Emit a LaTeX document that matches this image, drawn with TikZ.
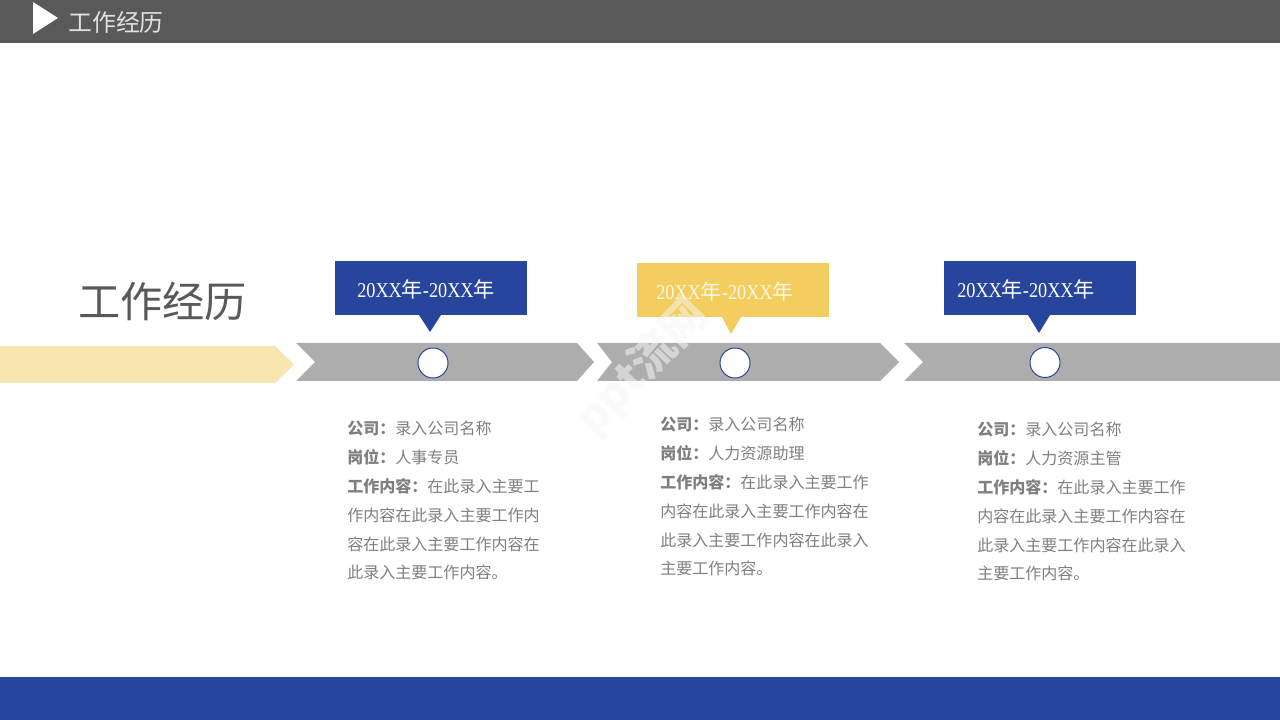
\documentclass[tikz,border=0pt]{standalone}
\usepackage{fontspec}
\newfontfamily\cjk{Noto Sans CJK SC}
\newfontfamily\datelatin{Liberation Serif}[FakeStretch=0.865]
\definecolor{headgray}{HTML}{595959}
\definecolor{barblue}{HTML}{27459C}
\definecolor{baryellow}{HTML}{F3CD5D}
\definecolor{palebar}{HTML}{F9E5B0}
\definecolor{stepgray}{HTML}{ADADAD}
\definecolor{bodygray}{HTML}{7F7F7F}
\newcommand{\datespan}{{\datelatin 20XX}年{\datelatin -20XX}年}
\begin{document}
\begin{tikzpicture}[
  x = 0.025cm,
  y = -0.025cm,
  datebox/.style = {
    shape = rectangle,
    minimum width = 4.8cm,
    minimum height = 1.35cm,
    inner sep = 0pt,
    outer sep = 0pt,
  },
  datetext/.style = {
    anchor = west,
    inner sep = 0pt,
    font = \cjk\fontsize{15}{18}\selectfont,
  },
  dot/.style = {
    shape = circle,
    draw = barblue,
    fill = white,
    line width = 0.7pt,
    minimum size = 0.75cm,
    inner sep = 0pt,
    outer sep = 0pt,
  },
  detail/.style = {
    anchor = north west,
    align = left,
    inner sep = 0pt,
    text = bodygray,
    font = \cjk\fontsize{11.4}{20.5}\selectfont,
  },
  stamp/.style = {
    rotate = 46,
    inner sep = 0pt,
    font = \cjk\bfseries\fontsize{32}{38}\selectfont,
  },
]
  \useasboundingbox (0, 0) rectangle (1280, 720);

  \fill[headgray] (0, 0) rectangle (1280, 43);
  \fill[barblue] (0, 677) rectangle (1280, 720);
  \fill[white] (33, 2) -- (58, 18) -- (33, 34) -- cycle;
  \node[anchor = west, inner sep = 0pt, text = white!88!black,
    font = \cjk\fontsize{17}{20}\selectfont] (headtitle) at (68, 22) {工作经历};
  \node[anchor = west, inner sep = 0pt, text = headgray,
    font = \cjk\fontsize{30}{36}\selectfont] (maintitle) at (78, 301) {工作经历};

  % timeline
  \fill[palebar] (0, 346) -- (275, 346) -- (294, 364.5) -- (275, 383) -- (0, 383) -- cycle;
  \fill[stepgray] (296, 343) -- (577, 343) -- (594, 362) -- (577, 381) -- (296, 381) -- (315, 362) -- cycle;
  \fill[stepgray] (597, 343) -- (880, 343) -- (899, 362) -- (880, 381) -- (597, 381) -- (612, 362) -- cycle;
  \fill[stepgray] (904, 343) -- (1280, 343) -- (1280, 381) -- (904, 381) -- (923, 362) -- cycle;

  \node[dot] (dot1) at (433, 363) {};
  \node[dot] (dot2) at (735, 363) {};
  \node[dot] (dot3) at (1045, 362.5) {};

  % date boxes
  \node[datebox, fill = barblue] (date1) at (431, 288) {};
  \node[datebox, fill = baryellow] (date2) at (733, 290) {};
  \node[datebox, fill = barblue] (date3) at (1040, 288) {};
  \fill[barblue] (419, 315) -- (430, 332) -- (441, 315) -- cycle;
  \fill[baryellow] (722, 317) -- (731, 334) -- (741, 317) -- cycle;
  \fill[barblue] (1028, 315) -- (1039, 333) -- (1050, 315) -- cycle;
  \node[datetext, text = white] (span1) at (357, 289) {\datespan};
  \node[datetext, text = white!85!baryellow] (span2) at (656, 291) {\datespan};
  \node[datetext, text = white] (span3) at (957, 289) {\datespan};

  % details
  \node[detail] (info1) at (347, 421) {%
    \textbf{公司：}录入公司名称\\
    \textbf{岗位：}人事专员\\
    \textbf{工作内容：}在此录入主要工\\
    作内容在此录入主要工作内\\
    容在此录入主要工作内容在\\
    此录入主要工作内容。};
  \node[detail] (info2) at (660, 417) {%
    \textbf{公司：}录入公司名称\\
    \textbf{岗位：}人力资源助理\\
    \textbf{工作内容：}在此录入主要工作\\
    内容在此录入主要工作内容在\\
    此录入主要工作内容在此录入\\
    主要工作内容。};
  \node[detail] (info3) at (977, 422) {%
    \textbf{公司：}录入公司名称\\
    \textbf{岗位：}人力资源主管\\
    \textbf{工作内容：}在此录入主要工作\\
    内容在此录入主要工作内容在\\
    此录入主要工作内容在此录入\\
    主要工作内容。};

  % watermark
  \node[stamp, text = white!96!black, text opacity = 0.55] (stampmark) at (642, 367) {ppt流网};
\end{tikzpicture}
\end{document}
